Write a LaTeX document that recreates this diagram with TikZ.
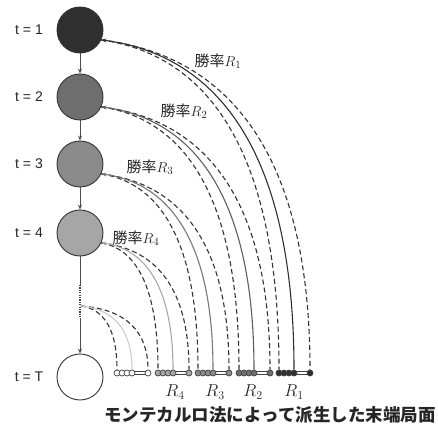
\documentclass[tikz,border=0pt]{standalone}
\usepackage{fontspec}
\setmainfont{Liberation Sans}
\newfontfamily\jp{Noto Sans CJK JP}
\usetikzlibrary{calc,arrows.meta}
\pgfdeclarelayer{bg}
\pgfsetlayers{bg,main}
\definecolor{f1}{HTML}{2F2F2F}
\definecolor{f2}{HTML}{6E6E6E}
\definecolor{f3}{HTML}{8A8A8A}
\definecolor{f4}{HTML}{A6A6A6}
\definecolor{fT}{HTML}{FFFFFF}
\definecolor{s1}{HTML}{2F2F2F}
\definecolor{s2}{HTML}{5E5E5E}
\definecolor{s3}{HTML}{777777}
\definecolor{s4}{HTML}{A8A8A8}
\definecolor{sT}{HTML}{CCCCCC}
\newcommand\qarc[3]{\draw[#1] let \p1=(#2), \p2=(#3) in (\p1) .. controls ({\x1+0.65*(\x2-\x1)},{\y1-0.05*(\y1-\y2)}) and (\x2,{\y2+0.62*(\y1-\y2)}) .. (\p2);}
\begin{document}
\begin{tikzpicture}[x=1pt,y=-1pt,
  state/.style={circle, draw=black!80, line width=0.9pt, minimum size=46pt, inner sep=0pt},
  leaf/.style={circle, draw=black!75, line width=0.7pt, minimum size=6pt, inner sep=0pt},
  tlab/.style={font=\fontsize{14}{14}\selectfont, text=black!85},
  wlab/.style={font=\jp\fontsize{15}{15}\selectfont, text=black!85, inner sep=0pt},
  rlab/.style={font=\fontsize{17}{17}\selectfont, text=black!85, inner sep=0pt},
  down/.style={-{Stealth[length=5pt,width=4pt]}, draw=black!70, line width=0.7pt},
  vline/.style={draw=black!70, line width=0.7pt},
  dots/.style={draw=black!75, line width=1.3pt, dash pattern=on 1.2pt off 1.2pt},
  dsh/.style={draw=black!80, line width=1.1pt, dash pattern=on 5pt off 3pt},
  sol/.style={line width=1.1pt, {Stealth[length=5pt,width=4pt]}-},
  bar/.style={draw=black!75, double=white, double distance=1.6pt, line width=0.8pt}
]
\useasboundingbox (0,0) rectangle (438,427);

% states
\node[state, fill=f1] (n1) at (80,30) {};
\node[state, fill=f2] (n2) at (80,97) {};
\node[state, fill=f3] (n3) at (80,164) {};
\node[state, fill=f4] (n4) at (80,233) {};
\node[state, fill=fT] (nT) at (80,377) {};

\node[tlab] (t1) at (29,30) {t = 1};
\node[tlab] (t2) at (29,97) {t = 2};
\node[tlab] (t3) at (29,164) {t = 3};
\node[tlab] (t4) at (29,233) {t = 4};
\node[tlab] (tT) at (29,377) {t = T};

\draw[down] (n1) -- (n2);
\draw[down] (n2) -- (n3);
\draw[down] (n3) -- (n4);
\coordinate (d1) at (80,285);
\coordinate (d2) at (80,318);
\coordinate (cT) at (81,306);
\draw[vline] (n4) -- (d1);
\draw[dots] (d1) -- (d2);
\draw[down] (d2) -- (nT);

% leaves
\foreach \g/\s in {T/117,4/158,3/198,2/239,1/279}{
  \foreach \i/\dx in {1/0,2/5,3/10,4/15,5/31}{
    \node[leaf, fill=f\g] (g\g-\i) at (\s+\dx,373) {};
  }
  \begin{pgfonlayer}{bg}
    \draw[bar] (g\g-4.center) -- (g\g-5.center);
  \end{pgfonlayer}
}

% curves
\begin{pgfonlayer}{bg}
\foreach \k in {1,2,3,4}{
  \qarc{dsh}{n\k.-25}{g\k-1.north}
  \qarc{dsh}{n\k.-25}{g\k-5.north}
  \qarc{sol, draw=s\k}{n\k.-25}{g\k-4.north}
}
\qarc{dsh}{cT}{gT-1.north}
\qarc{dsh}{cT}{gT-5.north}
\qarc{line width=1.1pt, draw=sT}{cT}{gT-4.north}
\end{pgfonlayer}

% labels
\node[wlab] (w1) at (218,61) {勝率$R_1$};
\node[wlab] (w2) at (184,111) {勝率$R_2$};
\node[wlab] (w3) at (150,167) {勝率$R_3$};
\node[wlab] (w4) at (136,238) {勝率$R_4$};

\node[rlab] (r4) at (175,392) {$R_4$};
\node[rlab] (r3) at (215,392) {$R_3$};
\node[rlab] (r2) at (253,392) {$R_2$};
\node[rlab] (r1) at (294,392) {$R_1$};

\node[font=\jp\bfseries\fontsize{17.5}{17.5}\selectfont, text=black!85, inner sep=0pt] (cap) at (270,415) {モンテカルロ法によって派生した末端局面};
\end{tikzpicture}
\end{document}
